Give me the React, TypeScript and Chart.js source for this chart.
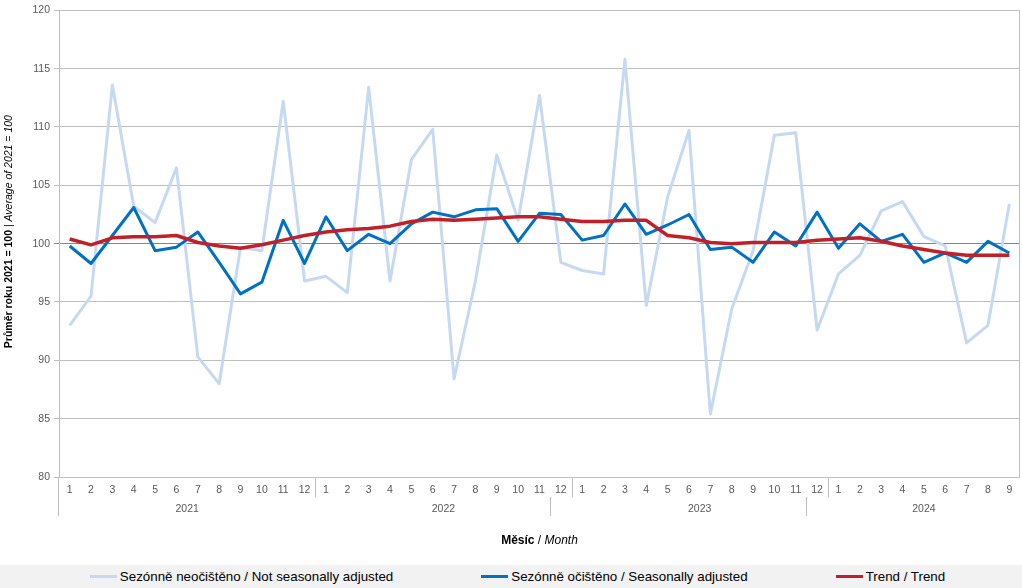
import React, { useEffect, useRef } from 'react';
import { Chart, registerables } from 'chart.js';

Chart.register(...registerables);

const FONT = '"Liberation Sans", Arial, sans-serif';

const years = ['2021', '2022', '2023', '2024'];
const monthsPerYear = [12, 12, 12, 9];
const yTicks = [80, 85, 90, 95, 100, 105, 110, 115, 120];

const notAdjusted = [
  93.0, 95.5, 113.6, 103.2, 101.8, 106.5, 90.3, 88.0, 99.7, 99.4, 112.2, 96.8,
  97.2, 95.8, 113.4, 96.8, 107.2, 109.8, 88.4, 96.8, 107.6, 102.0, 112.7, 98.4,
  97.7, 97.4, 115.8, 94.7, 104.0, 109.7, 85.4, 94.4, 99.4, 109.3, 109.5, 92.6,
  97.4, 99.0, 102.8, 103.6, 100.6, 99.8, 91.5, 93.0, 103.4,
];
const seasonallyAdjusted = [
  99.8, 98.3, 100.7, 103.1, 99.4, 99.7, 101.0, 98.4, 95.7, 96.7, 102.0, 98.3,
  102.3, 99.4, 100.8, 100.0, 101.7, 102.7, 102.3, 102.9, 103.0, 100.2, 102.6, 102.5,
  100.3, 100.7, 103.4, 100.8, 101.6, 102.5, 99.5, 99.7, 98.4, 101.0, 99.8, 102.7,
  99.6, 101.7, 100.2, 100.8, 98.4, 99.2, 98.4, 100.2, 99.2,
];
const trend = [
  100.4, 99.9, 100.5, 100.6, 100.6, 100.7, 100.1, 99.8, 99.6, 99.9, 100.3, 100.7,
  101.0, 101.2, 101.3, 101.5, 101.9, 102.1, 102.0, 102.1, 102.2, 102.3, 102.3, 102.1,
  101.9, 101.9, 102.0, 102.0, 100.7, 100.5, 100.1, 100.0, 100.1, 100.1, 100.1, 100.3,
  100.4, 100.5, 100.2, 99.8, 99.5, 99.2, 99.0, 99.0, 99.0,
];

const seriesNames = [
  'Sezónně neočištěno / Not seasonally adjusted',
  'Sezónně očištěno / Seasonally adjusted',
  'Trend / Trend',
];
const seriesColors = ['#c6d9f1', '#0070c0', '#c0202a'];

const monthLabels: string[] = [];
monthsPerYear.forEach((n) => {
  for (let m = 1; m <= n; m++) monthLabels.push(String(m));
});

const TICK_COLOR = '#595959';
const GRID_COLOR = '#bfbfbf';

const decor = {
  id: 'decor',
  afterDraw(chart: any) {
    const { ctx, chartArea } = chart;
    const x = chart.scales.x;
    const { left, right, top, bottom } = chartArea;
    const half = (x.getPixelForValue(1) - x.getPixelForValue(0)) / 2;
    ctx.save();
    ctx.strokeStyle = GRID_COLOR;
    ctx.lineWidth = 1;
    const vline = (px: number, y1: number, y2: number) => {
      ctx.beginPath();
      ctx.moveTo(Math.round(px) + 0.5, y1);
      ctx.lineTo(Math.round(px) + 0.5, y2);
      ctx.stroke();
    };
    // right border of plot area
    vline(right - 1, top, bottom);
    // left axis extension through label rows
    vline(left - 1, bottom, bottom + 39);
    // separators & year labels
    let cum = 0;
    ctx.fillStyle = TICK_COLOR;
    ctx.font = `10.5px ${FONT}`;
    ctx.textAlign = 'center';
    ctx.textBaseline = 'middle';
    monthsPerYear.forEach((n, yi) => {
      const start = x.getPixelForValue(cum) - half;
      const end = x.getPixelForValue(cum + n - 1) + half;
      if (yi > 0) vline(start, bottom, bottom + 20);
      if (yi > 1) vline(x.getPixelForValue(cum - 1) - half, bottom + 20, bottom + 39);
      ctx.fillText(years[yi], (start + end) / 2, bottom + 32);
      cum += n;
    });
    // x title
    const cx = (left + right) / 2;
    const parts = [
      { t: 'Měsíc', f: `bold 12px ${FONT}` },
      { t: ' / ', f: `12px ${FONT}` },
      { t: 'Month', f: `italic 12px ${FONT}` },
    ];
    const drawMixed = (ps: { t: string; f: string }[], cxp: number, cyp: number) => {
      let w = 0;
      ps.forEach((p) => { ctx.font = p.f; w += ctx.measureText(p.t).width; });
      let px = cxp - w / 2;
      ctx.textAlign = 'left';
      ps.forEach((p) => { ctx.font = p.f; ctx.fillText(p.t, px, cyp); px += ctx.measureText(p.t).width; });
    };
    ctx.fillStyle = '#000000';
    drawMixed(parts, cx, 541);
    // y title
    ctx.translate(9, (top + bottom) / 2 - 12);
    ctx.rotate(-Math.PI / 2);
    ctx.fillStyle = '#000000';
    drawMixed([
      { t: 'Průměr roku 2021 = 100', f: `bold 10.5px ${FONT}` },
      { t: ' | ', f: `10.5px ${FONT}` },
      { t: 'Average of 2021 = 100', f: `italic 10.5px ${FONT}` },
    ], 0, 0);
    ctx.restore();
  },
};

export default function App() {
  const ref = useRef<HTMLCanvasElement>(null);
  useEffect(() => {
    const values = [notAdjusted, seasonallyAdjusted, trend];
    const widths = [3, 3, 3.5];
    const orders = [2, 1, 0];
    const chart = new Chart(ref.current as HTMLCanvasElement, {
      type: 'line',
      data: {
        labels: monthLabels,
        datasets: values.map((v, i) => ({
          label: seriesNames[i],
          data: v,
          borderColor: seriesColors[i],
          backgroundColor: seriesColors[i],
          borderWidth: widths[i],
          pointRadius: 0,
          tension: 0,
          fill: false,
          order: orders[i],
          borderJoinStyle: 'round' as const,
        })),
      },
      options: {
        animation: false,
        responsive: false,
        maintainAspectRatio: false,
        layout: { padding: { top: 9, right: 2, left: 0, bottom: 0 } },
        plugins: { legend: { display: false }, tooltip: { enabled: false } },
        scales: {
          x: {
            offset: true,
            grid: { display: false, drawTicks: false },
            border: { display: false },
            ticks: {
              autoSkip: false,
              maxRotation: 0,
              padding: 7,
              color: TICK_COLOR,
              font: { family: FONT, size: 10.5 },
            },
            afterFit: (s: any) => { s.height = 88; },
          },
          y: {
            min: 80,
            max: 120,
            afterBuildTicks: (s: any) => { s.ticks = yTicks.map((v) => ({ value: v })); },
            ticks: {
              padding: 4,
              color: TICK_COLOR,
              font: { family: FONT, size: 10.5 },
            },
            grid: {
              color: (c: any) => (c.tick && c.tick.value === 100 ? '#868686' : GRID_COLOR),
              tickLength: 5,
              lineWidth: 1,
            },
            border: { color: GRID_COLOR },
            afterFit: (s: any) => { s.width = 59; },
          },
        },
      },
      plugins: [decor],
    });
    return () => chart.destroy();
  }, []);

  return (
    <div style={{ position: 'absolute', left: 0, top: 0, width: 1022, height: 588, background: '#fff', overflow: 'hidden' }}>
      <canvas ref={ref} width={1022} height={565} style={{ display: 'block', width: 1022, height: 565 }} />
      <div
        style={{
          height: 23,
          background: '#f2f2f2',
          display: 'flex',
          justifyContent: 'center',
          alignItems: 'center',
          paddingLeft: 13,
          boxSizing: 'border-box',
          fontFamily: FONT,
          fontSize: 13.33,
          color: '#000',
          gap: 88,
        }}
      >
        {seriesNames.map((n, i) => (
          <div key={n} style={{ display: 'flex', alignItems: 'center', whiteSpace: 'nowrap' }}>
            <span style={{ display: 'inline-block', width: 27, height: 3, background: seriesColors[i], marginRight: 3 }} />
            <span>{n}</span>
          </div>
        ))}
      </div>
    </div>
  );
}
